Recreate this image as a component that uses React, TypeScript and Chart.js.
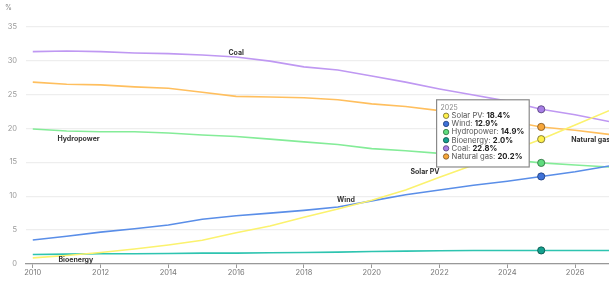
import React, { useEffect, useRef } from "react";
import { Chart, registerables } from "chart.js";
Chart.register(...registerables);

const years = [2010, 2011, 2012, 2013, 2014, 2015, 2016, 2017, 2018, 2019, 2020, 2021, 2022, 2023, 2024, 2025, 2026, 2027];
const solarPV = [0.9, 1.25, 1.7, 2.2, 2.8, 3.5, 4.6, 5.6, 6.9, 8.1, 9.4, 10.9, 12.8, 14.6, 16.5, 18.4, 20.5, 22.6];
const wind = [3.54, 4.1, 4.7, 5.2, 5.75, 6.6, 7.1, 7.5, 7.9, 8.4, 9.3, 10.2, 10.9, 11.6, 12.2, 12.9, 13.6, 14.45];
const hydropower = [19.9, 19.6, 19.5, 19.5, 19.3, 19.0, 18.8, 18.4, 18.0, 17.6, 17.0, 16.7, 16.3, 15.9, 15.4, 14.9, 14.6, 14.3];
const bioenergy = [1.4, 1.45, 1.5, 1.5, 1.55, 1.6, 1.6, 1.65, 1.7, 1.75, 1.85, 1.9, 1.95, 2.0, 2.0, 2.0, 2.0, 2.0];
const coal = [31.3, 31.4, 31.3, 31.1, 31.0, 30.8, 30.5, 29.9, 29.05, 28.6, 27.7, 26.8, 25.8, 24.9, 24.0, 22.8, 22.0, 21.0];
const naturalGas = [26.8, 26.5, 26.4, 26.1, 25.9, 25.3, 24.7, 24.6, 24.5, 24.2, 23.6, 23.2, 22.6, 21.9, 21.1, 20.2, 19.7, 19.1];

const seriesNames = ["Solar PV", "Wind", "Hydropower", "Bioenergy", "Coal", "Natural gas"];
const seriesValues = [solarPV, wind, hydropower, bioenergy, coal, naturalGas];
const lineColors = ["#fbf26e", "#5a8ee8", "#84ec98", "#2ec4b0", "#bf98f2", "#ffbf5e"];
const pointColors = ["#fff04a", "#3f72d8", "#5fdc7e", "#14a08e", "#a77ee6", "#f7a63a"];
const pointBorders = ["#6b6530", "#1e3c78", "#2d6c3d", "#0a4f46", "#4e3a75", "#7a5220"];

const xTicks = [2010, 2012, 2014, 2016, 2018, 2020, 2022, 2024, 2026];
const yTicks = [0, 5, 10, 15, 20, 25, 30, 35];
const hoverYear = 2025;

const labelTexts = ["Coal", "Hydropower", "Solar PV", "Wind", "Natural gas", "Bioenergy"];
const labelX = [2016.0, 2011.35, 2021.57, 2019.24, 2026.46, 2011.27];
const labelY = [31.1, 18.5, 13.6, 9.45, 18.3, 0.65];

const FONT = "Inter, 'Noto Sans', sans-serif";

export default function App() {
  const ref = useRef<HTMLCanvasElement>(null);
  useEffect(() => {
    document.body.style.margin = "0";
    const hoverIdx = years.indexOf(hoverYear);

    const overlay = {
      id: "overlay",
      afterDatasetsDraw(chart: any) {
        const ctx = chart.ctx;
        const xs = chart.scales.x;
        const ys = chart.scales.y;
        ctx.save();
        ctx.font = `bold 7px ${FONT}`;
        ctx.fillStyle = "#333";
        ctx.textAlign = "center";
        ctx.textBaseline = "middle";
        labelTexts.forEach((t, i) => {
          ctx.fillText(t, xs.getPixelForValue(labelX[i]), ys.getPixelForValue(labelY[i]));
        });
        ctx.font = `7px ${FONT}`;
        ctx.fillStyle = "#888";
        ctx.fillText("%", 8.5, 7.5);
        ctx.restore();
      },
      afterDraw(chart: any) {
        const ctx = chart.ctx;
        const xs = chart.scales.x;
        const ys = chart.scales.y;
        const px = xs.getPixelForValue(hoverYear);
        const topVal = Math.max(...seriesValues.map((s) => s[hoverIdx]));
        const right = px - 12;
        const top = ys.getPixelForValue(topVal) - 9.5;
        const fs = 7.7;
        const lineH = 8.14;
        ctx.save();
        const lines = seriesNames.map((n, i) => ({ a: n + ": ", b: seriesValues[i][hoverIdx].toFixed(1) + "%" }));
        let maxW = 0;
        lines.forEach((l) => {
          ctx.font = `${fs}px ${FONT}`;
          const wa = ctx.measureText(l.a).width;
          ctx.font = `bold ${fs}px ${FONT}`;
          const wb = ctx.measureText(l.b).width;
          maxW = Math.max(maxW, wa + wb);
        });
        const w = 15 + maxW + 5;
        const h = 16 + (lines.length - 1) * lineH + 10.5;
        const left = right - w;
        ctx.fillStyle = "#ffffff";
        ctx.strokeStyle = "#8a8a8a";
        ctx.lineWidth = 1.2;
        ctx.fillRect(left, top, w, h);
        ctx.strokeRect(left, top, w, h);
        ctx.textBaseline = "middle";
        ctx.textAlign = "left";
        ctx.font = `${fs - 0.7}px ${FONT}`;
        ctx.fillStyle = "#888";
        ctx.fillText(String(hoverYear), left + 4, top + 7.7);
        lines.forEach((l, i) => {
          const cy = top + 16 + i * lineH;
          ctx.beginPath();
          ctx.arc(left + 9.5, cy, 2.7, 0, Math.PI * 2);
          ctx.fillStyle = pointColors[i];
          ctx.fill();
          ctx.lineWidth = 0.8;
          ctx.strokeStyle = pointBorders[i];
          ctx.stroke();
          ctx.font = `${fs}px ${FONT}`;
          ctx.fillStyle = "#555";
          ctx.fillText(l.a, left + 15, cy);
          const wa = ctx.measureText(l.a).width;
          ctx.font = `bold ${fs}px ${FONT}`;
          ctx.fillStyle = "#222";
          ctx.fillText(l.b, left + 15 + wa, cy);
        });
        ctx.restore();
      },
    };

    const chart = new Chart(ref.current!, {
      type: "line",
      data: {
        datasets: seriesNames.map((name, i) => ({
          label: name,
          data: years.map((yr, j) => ({ x: yr, y: seriesValues[i][j] })),
          borderColor: lineColors[i],
          borderWidth: 1.6,
          tension: 0,
          fill: false,
          pointRadius: (c: any) => (c.dataIndex === hoverIdx ? 3.6 : 0),
          pointBackgroundColor: pointColors[i],
          pointBorderColor: pointBorders[i],
          pointBorderWidth: 0.8,
        })),
      },
      options: {
        animation: false,
        responsive: true,
        maintainAspectRatio: false,
        layout: { padding: { top: 26.5, left: 0, right: 0, bottom: 0 } },
        plugins: { legend: { display: false }, tooltip: { enabled: false } },
        events: [],
        scales: {
          x: {
            type: "linear",
            min: 2009.8,
            max: 2027,
            afterBuildTicks: (s: any) => {
              s.ticks = xTicks.map((v) => ({ value: v }));
            },
            afterFit: (s: any) => {
              s.height = 17;
            },
            ticks: {
              callback: (v: any) => String(v),
              font: { family: FONT, size: 7.5 },
              color: "#777",
              padding: 0,
              maxRotation: 0,
              autoSkip: false,
            },
            grid: { drawOnChartArea: false, drawTicks: true, tickLength: 4, color: "#999", lineWidth: 1 },
            border: { display: true, color: "#999", width: 1.2 },
          },
          y: {
            min: 0,
            max: 35,
            afterBuildTicks: (s: any) => {
              s.ticks = yTicks.map((v) => ({ value: v }));
            },
            afterFit: (s: any) => {
              s.width = 26;
            },
            ticks: {
              font: { family: FONT, size: 7.5 },
              color: "#999",
              padding: 9,
            },
            grid: { color: "#eeeeee", lineWidth: 1.2, drawTicks: false },
            border: { display: false },
          },
        },
      },
      plugins: [overlay],
    });
    return () => chart.destroy();
  }, []);
  return (
    <div style={{ width: 609, height: 281, position: "relative" }}>
      <canvas ref={ref} />
    </div>
  );
}
